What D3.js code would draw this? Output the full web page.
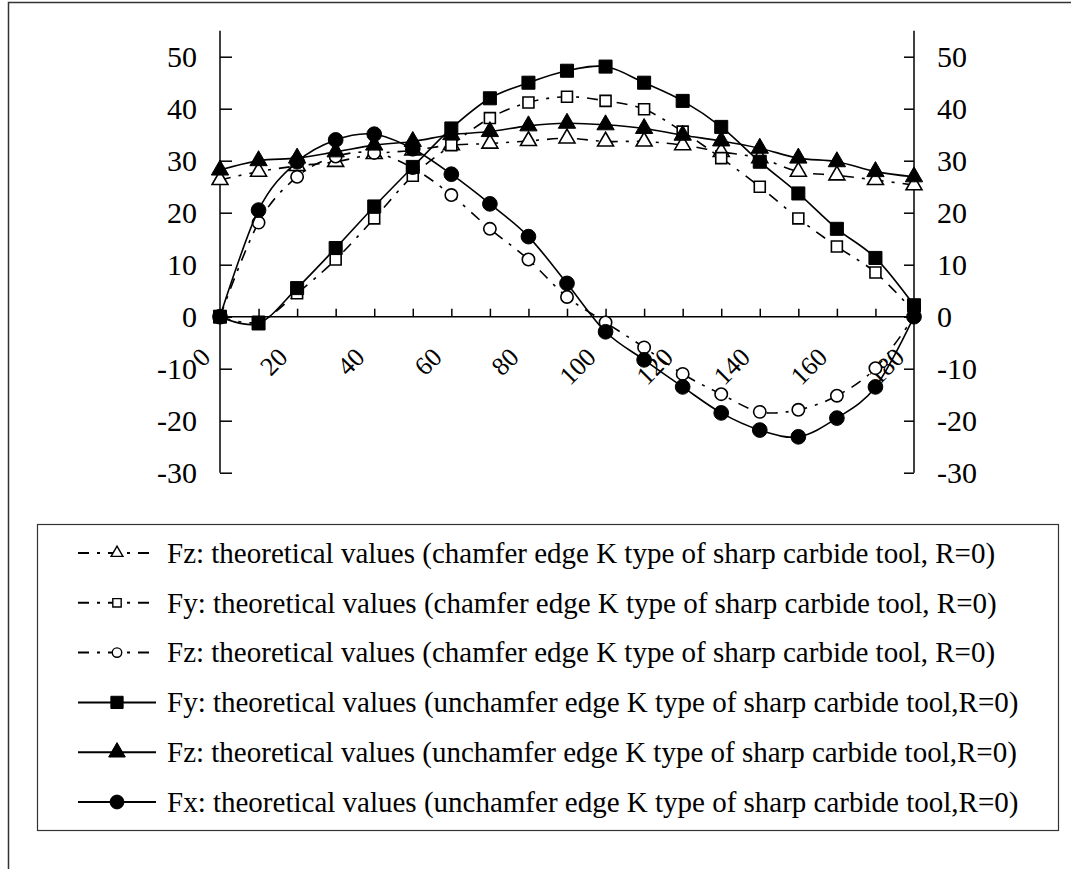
<!DOCTYPE html>
<html>
<head>
<meta charset="utf-8">
<script src="https://cdn.jsdelivr.net/npm/d3@7"></script>
<style>
  html, body { margin: 0; padding: 0; background: #fff; }
  svg { display: block; }
  text { font-family: "Liberation Serif", "Times New Roman", serif; fill: #000; }
</style>
</head>
<body>
<svg id="chart" width="1071" height="869"></svg>
<script>
// Cutting angle (degrees) along the category axis
const angles = [0, 10, 20, 30, 40, 50, 60, 70, 80, 90, 100, 110, 120, 130, 140, 150, 160, 170, 180];
const angleTickLabels = [0, 20, 40, 60, 80, 100, 120, 140, 160, 180];
const forceTicks = [-30, -20, -10, 0, 10, 20, 30, 40, 50];

// Theoretical force components, chamfer edge
const fzChamfer = [26.3, 27.9, 29.0, 29.8, 31.3, 32.0, 33.0, 33.3, 33.8, 34.3, 33.7, 33.7, 33.0, 31.7, 30.5, 27.9, 27.2, 26.3, 25.3];
const fyChamfer = [0, -1.0, 4.5, 11.0, 18.9, 27.1, 33.0, 38.2, 41.2, 42.3, 41.5, 39.9, 35.6, 30.5, 25.0, 18.9, 13.5, 8.5, 1.0];
const fxChamfer = [0, 18.1, 26.9, 30.8, 31.5, 28.6, 23.4, 16.9, 11.0, 3.8, -1.1, -5.9, -11.0, -14.9, -18.3, -17.9, -15.2, -9.9, 0];

// Theoretical force components, unchamfered edge
const fyUnchamfer = [0, -1.3, 5.5, 13.2, 21.2, 28.8, 36.2, 42.0, 45.0, 47.3, 48.1, 45.0, 41.5, 36.5, 29.8, 23.7, 16.9, 11.3, 2.2];
const fzUnchamfer = [28.2, 30.0, 30.5, 31.7, 33.0, 33.7, 35.0, 35.6, 36.7, 37.2, 36.9, 36.2, 34.9, 33.8, 32.4, 30.5, 29.8, 27.9, 26.9];
const fxUnchamfer = [0, 20.5, 29.8, 34.0, 35.1, 32.3, 27.4, 21.7, 15.4, 6.4, -2.9, -8.3, -13.5, -18.5, -21.8, -23.1, -19.5, -13.5, 0];

const seriesNames = [
  "Fz: theoretical values (chamfer edge K type of sharp carbide tool, R=0)",
  "Fy: theoretical values (chamfer edge K type of sharp carbide tool, R=0)",
  "Fz: theoretical values (chamfer edge K type of sharp carbide tool, R=0)",
  "Fy: theoretical values (unchamfer edge K type of sharp carbide tool,R=0)",
  "Fz: theoretical values (unchamfer edge K type of sharp carbide tool,R=0)",
  "Fx: theoretical values (unchamfer edge K type of sharp carbide tool,R=0)"
];

const series = [
  { name: seriesNames[0], values: fzChamfer,   symbol: d3.symbolTriangle, filled: false, dashed: true },
  { name: seriesNames[1], values: fyChamfer,   symbol: d3.symbolSquare,   filled: false, dashed: true },
  { name: seriesNames[2], values: fxChamfer,   symbol: d3.symbolCircle,   filled: false, dashed: true },
  { name: seriesNames[3], values: fyUnchamfer, symbol: d3.symbolSquare,   filled: true,  dashed: false },
  { name: seriesNames[4], values: fzUnchamfer, symbol: d3.symbolTriangle, filled: true,  dashed: false },
  { name: seriesNames[5], values: fxUnchamfer, symbol: d3.symbolCircle,   filled: true,  dashed: false }
];

const svg = d3.select("#chart");

// Outer frame (top and left edges visible)
svg.append("path")
  .attr("d", "M8.5,869 L8.5,2.5 L1071,2.5")
  .attr("fill", "none").attr("stroke", "#333").attr("stroke-width", 1.5);

const plot = { left: 220, right: 914, top: 31, bottom: 472 };

const x = d3.scalePoint().domain(angles).range([plot.left, plot.right]);
const y = d3.scaleLinear().domain([-30, 55]).range([plot.bottom + 0.7, plot.top - 0.3]);

// Plain hyphen-minus for negative tick values
const tickText = d => String(d);

const axisG = svg.append("g");

// Left value axis
const leftAxis = axisG.append("g").attr("transform", `translate(${plot.left},0)`)
  .call(d3.axisRight(y).tickValues(forceTicks).tickSize(12).tickFormat(tickText));
leftAxis.select(".domain").attr("d", `M0,${y(-30)}V${y(55)}`);
leftAxis.selectAll("text").attr("x", -23).attr("text-anchor", "end")
  .style("font-size", "30px").attr("dy", "0.34em");

// Right value axis
const rightAxis = axisG.append("g").attr("transform", `translate(${plot.right},0)`)
  .call(d3.axisLeft(y).tickValues(forceTicks).tickSize(10).tickFormat(tickText));
rightAxis.select(".domain").attr("d", `M0,${y(-30)}V${y(55)}`);
rightAxis.selectAll("text").attr("x", 23).attr("text-anchor", "start")
  .style("font-size", "30px").attr("dy", "0.34em");

// Category axis across the zero line
const bottomAxis = axisG.append("g").attr("transform", `translate(0,${y(0)})`)
  .call(d3.axisTop(x).tickSize(8).tickFormat(""));
bottomAxis.select(".domain").attr("d", `M${plot.left},0H${plot.right}`);

axisG.selectAll(".domain, .tick line").attr("stroke", "#000").attr("stroke-width", 1.5);
axisG.selectAll("text").attr("fill", "#000").style("font-family", "'Liberation Serif', serif");

// Rotated angle labels
svg.append("g").selectAll("text")
  .data(angleTickLabels)
  .join("text")
  .attr("transform", d => `translate(${x(d) - 8},${y(0) + 42}) rotate(-45)`)
  .attr("text-anchor", "end")
  .style("font-size", "26px")
  .text(d => d);

// Series lines and markers
const line = d3.line()
  .x((d, i) => x(angles[i]))
  .y(d => y(d))
  .curve(d3.curveCardinal.tension(0));

const dashPattern = "11,8,3,8";

const seriesG = svg.append("g");
series.forEach(s => {
  const g = seriesG.append("g");
  g.append("path")
    .datum(s.values)
    .attr("d", line)
    .attr("fill", "none")
    .attr("stroke", "#000")
    .attr("stroke-width", 1.6)
    .attr("stroke-dasharray", s.dashed ? dashPattern : null);
  const size = s.filled ? 170 : 120;
  const triSize = s.filled ? 130 : 110;
  g.selectAll("path.marker")
    .data(s.values)
    .join("path")
    .attr("class", "marker")
    .attr("transform", (d, i) => `translate(${x(angles[i])},${y(d)})`)
    .attr("d", d3.symbol().type(s.symbol).size(s.symbol === d3.symbolTriangle ? triSize : size))
    .attr("fill", s.filled ? "#000" : "#fff")
    .attr("stroke", "#000")
    .attr("stroke-width", s.filled ? 1 : 1.6);
});

// Legend
const legend = { x: 37, y: 524, w: 1021, h: 306, row0: 553, rowStep: 49.8 };
svg.append("rect")
  .attr("x", legend.x + 0.5).attr("y", legend.y + 0.5)
  .attr("width", legend.w).attr("height", legend.h)
  .attr("fill", "#fff").attr("stroke", "#333").attr("stroke-width", 1.2);

const legRows = svg.append("g").selectAll("g")
  .data(series)
  .join("g")
  .attr("transform", (d, i) => `translate(0,${legend.row0 + i * legend.rowStep})`);

legRows.append("line")
  .attr("x1", 78).attr("x2", 156).attr("y1", 0).attr("y2", 0)
  .attr("stroke", "#000").attr("stroke-width", 2)
  .attr("stroke-dasharray", d => d.dashed ? dashPattern : null);

legRows.append("path")
  .attr("transform", "translate(117,0)")
  .attr("d", d => d3.symbol().type(d.symbol)
    .size(d.filled ? (d.symbol === d3.symbolTriangle ? 120 : 150) : (d.symbol === d3.symbolTriangle ? 60 : 70))())
  .attr("fill", d => d.filled ? "#000" : "#fff")
  .attr("stroke", "#000")
  .attr("stroke-width", d => d.filled ? 1 : 1.4);

legRows.append("text")
  .attr("x", 167)
  .attr("dy", "0.34em")
  .style("font-size", "29px")
  .text(d => d.name);
</script>
</body>
</html>
